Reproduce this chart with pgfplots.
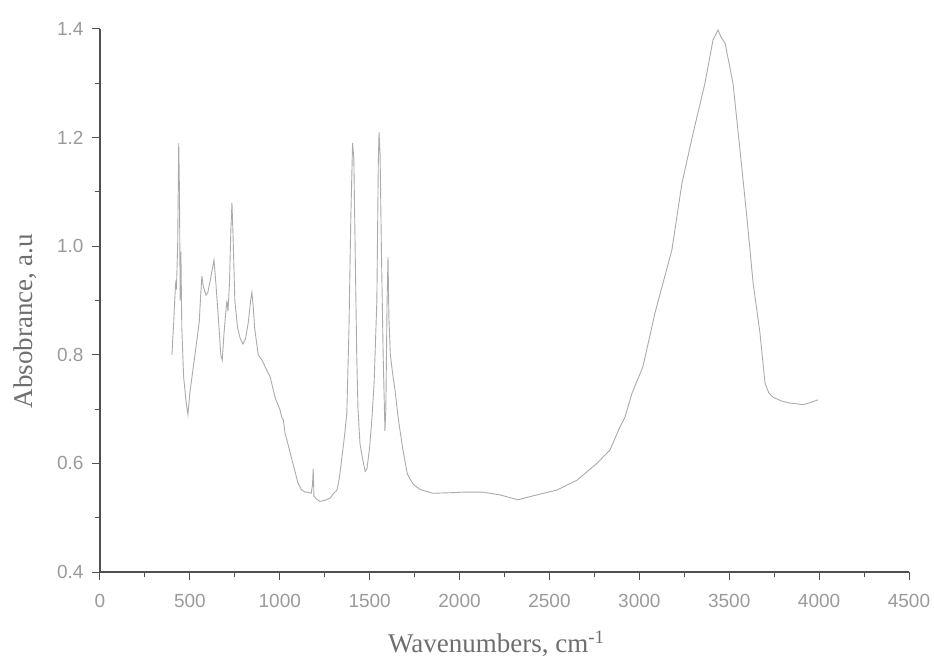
\documentclass[border=0pt]{standalone}
\usepackage{pgfplots}
\pgfplotsset{compat=1.18}
\usepackage{fontspec}
\setmainfont{Liberation Serif}
\newfontfamily\tickfont{Liberation Sans}
\definecolor{axcol}{HTML}{505050}
\definecolor{tickcol}{HTML}{9A9A9A}
\definecolor{labcol}{HTML}{6E6E6E}
\definecolor{linecol}{HTML}{ABABAB}
\begin{document}
\begin{tikzpicture}
\begin{axis}[
  at={(0,0)}, anchor=south west,
  scale only axis, width=809bp, height=543bp,
  xmin=0, xmax=4500, ymin=0.4, ymax=1.4,
  axis lines=left,
  axis line style={axcol, line width=1.2bp, -},
  xtick={0,500,1000,1500,2000,2500,3000,3500,4000,4500},
  ytick={0.4,0.6,0.8,1.0,1.2,1.4},
  minor x tick num=1, minor y tick num=1,
  tick align=outside,
  major tick length=8bp, minor tick length=5bp,
  every tick/.style={axcol, line width=1bp},
  tick label style={font=\tickfont\fontsize{19bp}{21bp}\selectfont, text=tickcol},
  /pgf/number format/assume math mode=true,
  xticklabel style={yshift=-11bp, /pgf/number format/1000 sep={}},
  yticklabel style={xshift=-5bp, /pgf/number format/.cd, fixed, fixed zerofill, precision=1},
  xlabel={Wavenumbers, cm\textsuperscript{-1}},
  every axis x label/.style={at={(axis description cs:0.49,0)}, anchor=center, yshift=-72bp,
    font=\fontsize{27bp}{30bp}\selectfont, text=labcol},
  ylabel={Absobrance, a.u},
  every axis y label/.style={at={(axis description cs:0,0.462)}, rotate=90, anchor=center, yshift=75bp,
    font=\fontsize{27bp}{30bp}\selectfont, text=labcol},
  clip=false,
]
\addplot[color=linecol, line width=0.9bp] coordinates {
(400,0.80) (410,0.86) (420,0.93) (425,0.92) (432,1.00) (438,1.19) (442,1.10)
(446,0.90) (450,0.99) (455,0.85) (465,0.76) (480,0.71) (489,0.69) (500,0.73)
(520,0.78) (540,0.83) (552,0.86) (560,0.91) (567,0.945) (575,0.925) (590,0.91)
(600,0.915) (615,0.94) (634,0.975) (645,0.93) (660,0.86) (672,0.80) (680,0.79)
(690,0.84) (700,0.88) (706,0.90) (712,0.88) (720,0.93) (728,1.03) (734,1.08)
(740,1.02) (750,0.90) (765,0.85) (780,0.83) (795,0.82) (810,0.83) (825,0.86)
(838,0.90) (845,0.915) (852,0.89) (860,0.85) (880,0.80) (901,0.79) (930,0.77)
(946,0.76) (975,0.72) (1000,0.70) (1012,0.684) (1020,0.68) (1029,0.656) (1050,0.63)
(1068,0.606) (1085,0.585) (1101,0.564) (1120,0.552) (1140,0.547) (1157,0.547)
(1175,0.545) (1182,0.56) (1186,0.59) (1190,0.54) (1205,0.534) (1224,0.530)
(1250,0.532) (1280,0.536) (1300,0.545) (1318,0.551) (1330,0.57) (1346,0.612)
(1360,0.65) (1373,0.693) (1385,0.85) (1395,1.05) (1405,1.19) (1412,1.16)
(1420,0.98) (1428,0.80) (1435,0.70) (1446,0.637) (1460,0.61) (1475,0.585)
(1485,0.59) (1500,0.63) (1513,0.685) (1525,0.75) (1540,0.90) (1548,1.15)
(1552,1.21) (1558,1.17) (1565,1.00) (1575,0.80) (1585,0.66) (1590,0.70)
(1597,0.90) (1602,0.98) (1607,0.87) (1615,0.80) (1630,0.76) (1641,0.735)
(1660,0.68) (1685,0.625) (1710,0.58) (1741,0.562) (1780,0.552) (1852,0.545)
(1950,0.546) (2019,0.547) (2130,0.547) (2225,0.542) (2325,0.533) (2430,0.542)
(2542,0.551) (2653,0.569) (2764,0.60) (2837,0.625) (2892,0.667) (2920,0.685)
(2960,0.73) (3020,0.778) (3087,0.877) (3181,0.993) (3237,1.116) (3299,1.208)
(3365,1.30) (3410,1.38) (3437,1.398) (3455,1.385) (3477,1.374) (3521,1.30)
(3560,1.177) (3598,1.054) (3633,0.932) (3671,0.84) (3699,0.748) (3720,0.73)
(3743,0.722) (3790,0.715) (3838,0.711) (3870,0.71) (3910,0.708) (3950,0.712)
(3994,0.717)
};
\end{axis}
\pgfresetboundingbox
\useasboundingbox (-100bp,-88bp) rectangle (834bp,572bp);
\end{tikzpicture}
\end{document}
